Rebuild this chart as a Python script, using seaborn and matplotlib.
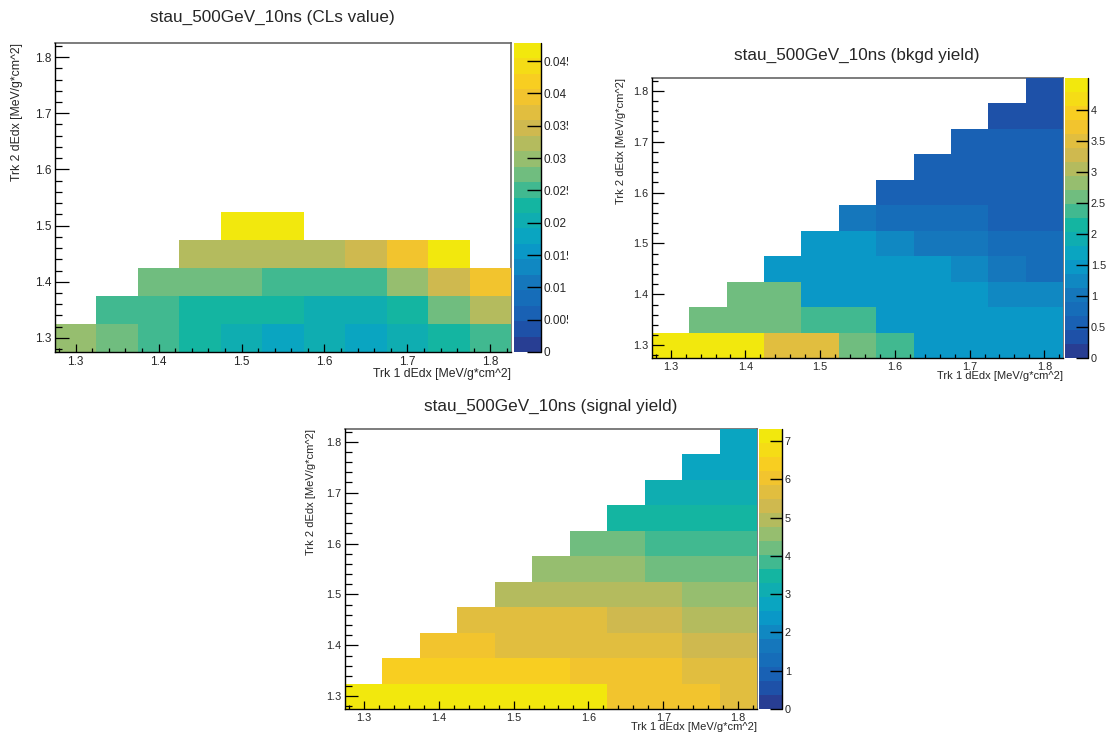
import numpy as np
import pandas as pd
import seaborn as sns
import matplotlib
matplotlib.use("Agg")
import matplotlib.pyplot as plt
from matplotlib.colors import LinearSegmentedColormap, ListedColormap
from matplotlib.ticker import FixedLocator, FuncFormatter
from matplotlib.transforms import Bbox, TransformedBbox

# %%
# Data: dEdx bin centres (same binning for trk1 on x and trk2 on y)
dedx_bins = [1.30, 1.35, 1.40, 1.45, 1.50, 1.55, 1.60, 1.65, 1.70, 1.75, 1.80]
bin_width = 0.05
N = None

# rows = trk2 dEdx (1.30 first ... 1.80 last), columns = trk1 dEdx
cls_value = [
    [0.0299, 0.0275, 0.0251, 0.0227, 0.0203, 0.0179, 0.0203, 0.0179, 0.0203, 0.0227, 0.0251],
    [N, 0.0251, 0.0251, 0.0227, 0.0227, 0.0227, 0.0203, 0.0203, 0.0227, 0.0275, 0.0323],
    [N, N, 0.0275, 0.0275, 0.0275, 0.0251, 0.0251, 0.0251, 0.0299, 0.0347, 0.0394],
    [N, N, N, 0.0323, 0.0323, 0.0323, 0.0323, 0.0347, 0.0394, 0.0470, N],
    [N, N, N, N, 0.0475, 0.0478, N, N, N, N, N],
    [N, N, N, N, N, N, N, N, N, N, N],
    [N, N, N, N, N, N, N, N, N, N, N],
    [N, N, N, N, N, N, N, N, N, N, N],
    [N, N, N, N, N, N, N, N, N, N, N],
    [N, N, N, N, N, N, N, N, N, N, N],
    [N, N, N, N, N, N, N, N, N, N, N],
]

bkgd_yield = [
    [4.51, 4.45, 4.40, 3.49, 3.47, 2.59, 2.37, 1.46, 1.47, 1.45, 1.46],
    [N, 2.60, 2.58, 2.59, 2.36, 2.37, 1.46, 1.46, 1.45, 1.46, 1.47],
    [N, N, 2.59, 2.60, 1.46, 1.46, 1.45, 1.46, 1.46, 1.24, 1.23],
    [N, N, N, 1.46, 1.46, 1.45, 1.46, 1.46, 1.24, 1.01, 0.79],
    [N, N, N, N, 1.46, 1.46, 1.24, 1.01, 1.01, 0.79, 0.78],
    [N, N, N, N, N, 1.01, 0.79, 0.79, 0.78, 0.56, 0.56],
    [N, N, N, N, N, N, 0.56, 0.56, 0.56, 0.56, 0.55],
    [N, N, N, N, N, N, N, 0.56, 0.56, 0.56, 0.55],
    [N, N, N, N, N, N, N, N, 0.56, 0.56, 0.55],
    [N, N, N, N, N, N, N, N, N, 0.34, 0.34],
    [N, N, N, N, N, N, N, N, N, N, 0.33],
]

signal_yield = [
    [7.10, 7.12, 7.15, 7.18, 7.20, 7.30, 7.32, 6.04, 6.02, 6.00, 5.67],
    [N, 6.41, 6.42, 6.40, 6.38, 6.36, 6.04, 6.03, 6.00, 5.67, 5.65],
    [N, N, 6.04, 6.03, 5.68, 5.67, 5.66, 5.65, 5.64, 5.31, 5.30],
    [N, N, N, 5.68, 5.67, 5.66, 5.65, 5.31, 5.30, 4.94, 4.93],
    [N, N, N, N, 4.95, 4.94, 4.94, 4.93, 4.92, 4.58, 4.57],
    [N, N, N, N, N, 4.58, 4.57, 4.57, 4.21, 4.20, 4.20],
    [N, N, N, N, N, N, 4.21, 4.20, 3.84, 3.84, 3.83],
    [N, N, N, N, N, N, N, 3.48, 3.48, 3.47, 3.47],
    [N, N, N, N, N, N, N, N, 3.11, 3.11, 3.10],
    [N, N, N, N, N, N, N, N, N, 2.75, 2.74],
    [N, N, N, N, N, N, N, N, N, N, 2.73],
]

cls_ticks = [0, 0.005, 0.01, 0.015, 0.02, 0.025, 0.03, 0.035, 0.04, 0.045]
bkgd_ticks = [0, 0.5, 1, 1.5, 2, 2.5, 3, 3.5, 4]
signal_ticks = [0, 1, 2, 3, 4, 5, 6, 7]

titles = ["stau_500GeV_10ns (CLs value)",
          "stau_500GeV_10ns (bkgd yield)",
          "stau_500GeV_10ns (signal yield)"]
x_title = "Trk 1 dEdx [MeV/g*cm^2]"
y_title = "Trk 2 dEdx [MeV/g*cm^2]"

# %%
# bird-like palette (as it looks in the saved picture), 20 contour levels
bird_stops = [0.0, 0.125, 0.25, 0.375, 0.5, 0.625, 0.75, 0.875, 1.0]
bird_rgb = [(0.19, 0.17, 0.50), (0.10, 0.36, 0.70), (0.08, 0.47, 0.74),
            (0.03, 0.63, 0.79), (0.08, 0.71, 0.63), (0.53, 0.749, 0.466),
            (0.815, 0.725, 0.31), (0.98, 0.78, 0.15), (0.95, 0.91, 0.05)]
bird = LinearSegmentedColormap.from_list("bird", list(zip(bird_stops, bird_rgb)))
bird20 = ListedColormap([bird((k + 0.99) / 20) for k in range(20)])

# %%
sns.set_style("ticks")
plt.rcParams['font.family'] = ['Liberation Sans', 'DejaVu Sans']
plt.rcParams['axes.axisbelow'] = False

W, H = 1111, 736
fig = plt.figure(figsize=(W / 100, H / 100), dpi=100)


def px_rect(l, t, r, b):
    return [l / W, 1 - b / H, (r - l) / W, (b - t) / H]


# pixel layout of each pad: frame, palette, title centre, x-title y, y-title x
layouts = [
    dict(frame=(55, 43, 511, 352), cbar=(514, 43, 541, 352), title=(272, 17),
         xt_y=374, yt_x=17, fs_tick=8.5, fs_axis=8.8, ylen=10, xlen=5.8, cblen=10, clip=568),
    dict(frame=(652, 78, 1063, 358), cbar=(1065, 78, 1088, 358), title=(857, 55),
         xt_y=376, yt_x=621, fs_tick=7.8, fs_axis=8.0, ylen=8.6, xlen=5.8, cblen=8.6, clip=None),
    dict(frame=(345, 429, 757, 709), cbar=(759, 429, 782, 709), title=(551, 406),
         xt_y=727, yt_x=311, fs_tick=7.8, fs_axis=8.0, ylen=9.4, xlen=5.8, cblen=8.6, clip=None),
]

lo = dedx_bins[0] - bin_width / 2
hi = dedx_bins[-1] + bin_width / 2


def to_idx(v):
    return (np.asarray(v) - lo) / bin_width


major_vals = dedx_bins[::2]
minor_vals = np.arange(1.28, hi, 0.02)
clip_labels = []

for grid, title, cticks, lay in zip([cls_value, bkgd_yield, signal_yield], titles,
                                    [cls_ticks, bkgd_ticks, signal_ticks], layouts):
    ax = fig.add_axes(px_rect(*lay["frame"]))
    cax = fig.add_axes(px_rect(*lay["cbar"]))
    df = pd.DataFrame(grid, index=dedx_bins, columns=dedx_bins, dtype=float)
    sns.heatmap(df, ax=ax, cbar_ax=cax, cmap=bird20, vmin=0, vmax=np.nanmax(df.values),
                mask=df.isna(), xticklabels=False, yticklabels=False)
    ax.set_xlim(0, len(dedx_bins))
    ax.set_ylim(0, len(dedx_bins))
    ax.set_axisbelow(False)
    cax.set_axisbelow(False)

    # frame
    for side, sp in ax.spines.items():
        sp.set_visible(True)
        if side in ("top", "right"):
            sp.set_color("#666666")
            sp.set_linewidth(1.2)
            sp.set_zorder(0.5)
        else:
            sp.set_color("black")
            sp.set_linewidth(1.0)

    fmt = FuncFormatter(lambda p, _: f"{lo + p * bin_width:.1f}")
    for axis in (ax.xaxis, ax.yaxis):
        axis.set_major_locator(FixedLocator(to_idx(major_vals)))
        axis.set_minor_locator(FixedLocator(to_idx(minor_vals)))
        axis.set_major_formatter(fmt)
    ax.tick_params(axis="x", which="major", direction="in", length=lay["xlen"], width=0.9,
                   labelsize=lay["fs_tick"], pad=3, bottom=True, top=False, color="black")
    ax.tick_params(axis="x", which="minor", direction="in", length=lay["xlen"] / 2, width=0.9,
                   bottom=True, top=False, color="black")
    ax.tick_params(axis="y", which="major", direction="in", length=lay["ylen"], width=0.9,
                   labelsize=lay["fs_tick"], pad=2.5, left=True, right=False, color="black")
    ax.tick_params(axis="y", which="minor", direction="in", length=lay["ylen"] / 2, width=0.9,
                   left=True, right=False, color="black")
    plt.setp(ax.get_yticklabels(), rotation=0)
    ax.set_xlabel("")
    ax.set_ylabel("")

    # palette axis
    cbar = ax.collections[0].colorbar
    cbar.set_ticks(cticks)
    cbar.set_ticklabels([f"{t:g}" for t in cticks])
    cbar.outline.set_visible(False)
    cbar.ax.tick_params(direction="in", length=lay["cblen"], width=1.0, color="black",
                        labelsize=lay["fs_tick"], pad=2, right=True, left=False)
    cbar.ax.yaxis.set_minor_locator(FixedLocator([]))
    cbar.ax.plot([1, 1], [0, 1], transform=cbar.ax.transAxes, color="black", lw=1.0,
                 clip_on=False)
    if lay["clip"]:
        clip_labels.append((cbar, lay["clip"]))

    # texts
    fig.text(lay["title"][0] / W, 1 - lay["title"][1] / H, title, ha="center", va="center",
             fontsize=12.3)
    fig.text(lay["frame"][2] / W, 1 - lay["xt_y"] / H, x_title, ha="right", va="center",
             fontsize=lay["fs_axis"])
    fig.text(lay["yt_x"] / W, 1 - lay["frame"][1] / H, y_title, rotation=90, ha="center",
             va="top", fontsize=lay["fs_axis"])

# palette labels of the first pad are cut at the pad edge
fig.canvas.draw()
for cbar, xclip in clip_labels:
    box = TransformedBbox(Bbox([[0, 0], [xclip / W, 1]]), fig.transFigure)
    for lbl in cbar.ax.get_yticklabels():
        lbl.set_clip_box(box)
        lbl.set_clip_on(True)

fig.savefig("out.png", dpi=100)
